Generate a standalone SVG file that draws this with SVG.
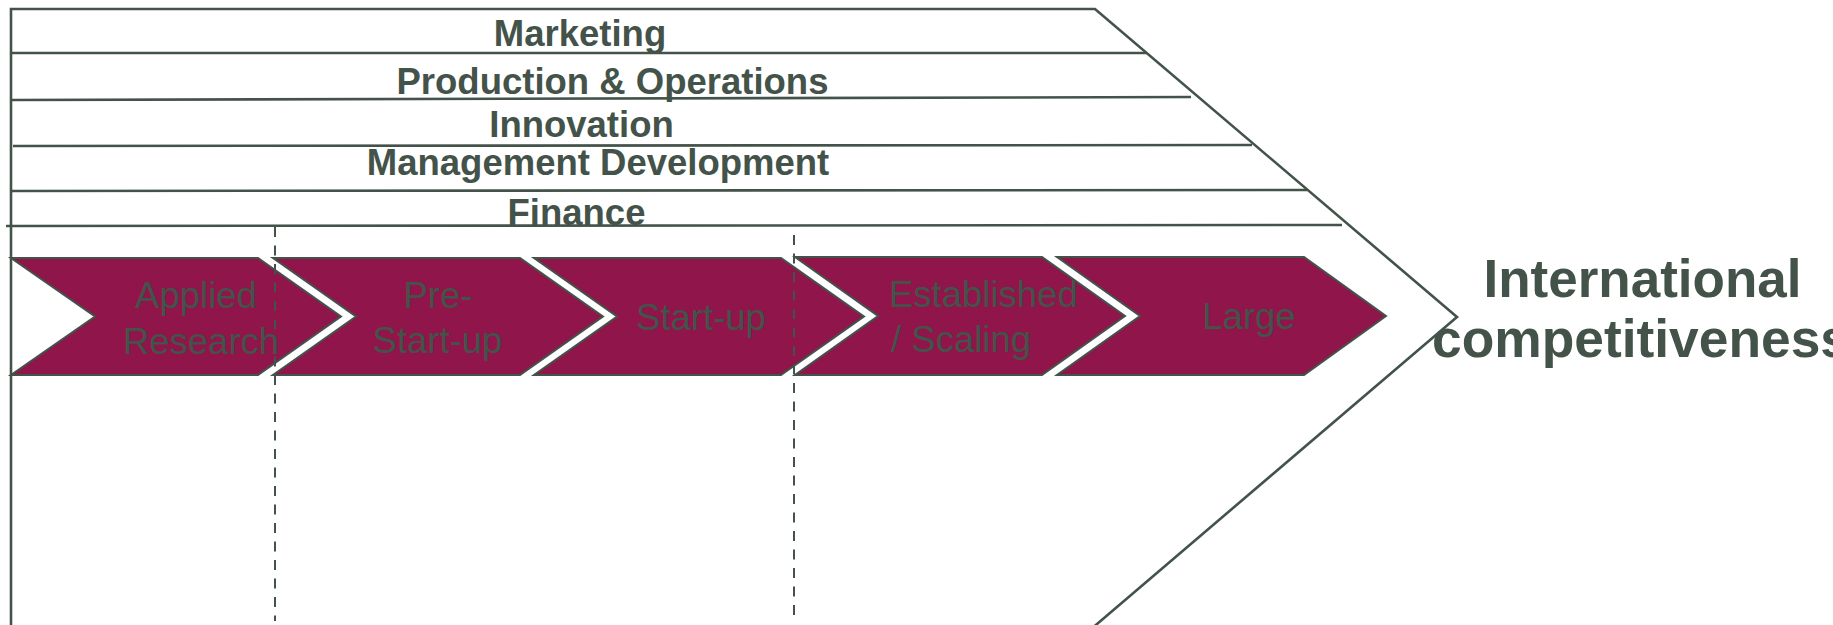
<svg xmlns="http://www.w3.org/2000/svg" width="1833" height="625" viewBox="0 0 1833 625">
  <style>
    .frame { fill: none; stroke: #44534a; stroke-width: 2.6; }
    .band { stroke: #44534a; stroke-width: 2.6; fill: none; }
    .divider { stroke: #44534a; stroke-width: 2; stroke-dasharray: 10 8.5; fill: none; }
    .chev { fill: #8f154a; stroke: #44534a; stroke-width: 2; stroke-linejoin: miter; }
    .band-label { font-family: "Liberation Sans", Arial, sans-serif; font-weight: bold; font-size: 36.5px; fill: #44534a; text-anchor: middle; }
    .stage-label { font-family: "Liberation Sans", Arial, sans-serif; font-size: 36.5px; fill: #44534a; text-anchor: middle; }
    .goal-label { font-family: "Liberation Sans", Arial, sans-serif; font-weight: bold; font-size: 53px; fill: #44534a; }
  </style>

  <!-- outer arrow frame and band separators -->
  <g id="connectors">
    <polyline class="frame" points="11,630 11,9 1095,9 1457,317 1090,630"/>
    <line class="band" x1="11" y1="53" x2="1147" y2="53"/>
    <line class="band" x1="11" y1="100" x2="1191" y2="97"/>
    <line class="band" x1="13" y1="146" x2="1252" y2="145"/>
    <line class="band" x1="11" y1="191" x2="1307" y2="190"/>
    <line class="band" x1="6" y1="226" x2="1342" y2="225"/>
  </g>

  <!-- functional bands -->
  <g id="band-marketing"><text class="band-label" x="580" y="46">Marketing</text></g>
  <g id="band-production"><text class="band-label" x="612.5" y="94">Production &amp; Operations</text></g>
  <g id="band-innovation"><text class="band-label" x="581.5" y="137">Innovation</text></g>
  <g id="band-management"><text class="band-label" x="598" y="175">Management Development</text></g>
  <g id="band-finance"><text class="band-label" x="576.5" y="225">Finance</text></g>

  <!-- growth stages -->
  <g id="stage-applied-research">
    <polygon class="chev" points="11,258 258,258 341,316.5 258,375 11,375 95,316.5"/>
    <text class="stage-label" x="196" y="308">Applied</text>
    <text class="stage-label" x="201" y="354">Research</text>
  </g>
  <g id="stage-pre-start-up">
    <polygon class="chev" points="273,258 520,258 603,316.5 520,375 273,375 356,316.5"/>
    <text class="stage-label" x="438" y="308">Pre-</text>
    <text class="stage-label" x="437.5" y="353">Start-up</text>
  </g>
  <g id="stage-start-up">
    <polygon class="chev" points="534,258 781,258 864,316.5 781,375 534,375 617,316.5"/>
    <text class="stage-label" x="701" y="330">Start-up</text>
  </g>
  <g id="stage-established">
    <polygon class="chev" points="795,257 1042,257 1125,316 1042,375 795,375 878,316"/>
    <text class="stage-label" x="889" y="307" style="text-anchor:start">Established</text>
    <text class="stage-label" x="891" y="352" style="text-anchor:start">/ Scaling</text>
  </g>
  <g id="stage-large">
    <polygon class="chev" points="1057,257 1304,257 1386,316 1304,375 1057,375 1140,316"/>
    <text class="stage-label" x="1249" y="329">Large</text>
  </g>

  <!-- phase dividers -->
  <g id="dividers">
    <line class="divider" x1="275" y1="227" x2="275" y2="621"/>
    <line class="divider" x1="794" y1="235" x2="794" y2="619"/>
  </g>

  <!-- outcome -->
  <g id="goal">
    <text class="goal-label" x="1642.5" y="297" text-anchor="middle">International</text>
    <text class="goal-label" x="1432" y="357" textLength="418" lengthAdjust="spacingAndGlyphs">competitiveness</text>
  </g>
</svg>
